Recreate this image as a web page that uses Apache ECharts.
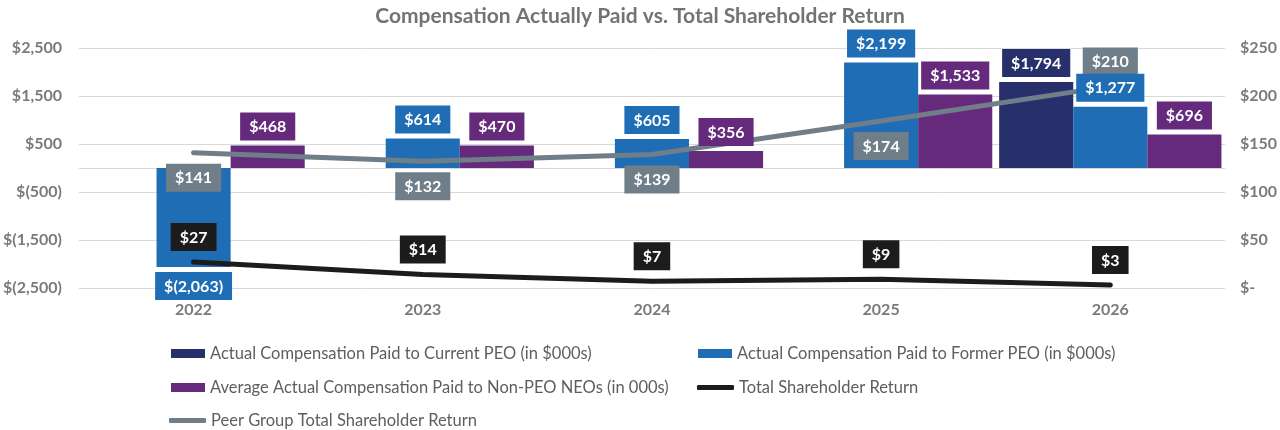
<!DOCTYPE html>
<html>
<head>
<meta charset="utf-8">
<script src="https://cdn.jsdelivr.net/npm/echarts@6/dist/echarts.min.js"></script>
<style>html,body{margin:0;padding:0;background:#fff}#c{width:1280px;height:430px}</style>
</head>
<body>
<div id="c"></div>
<script>
const categories = ['2022', '2023', '2024', '2025', '2026'];
const currentPEO = [null, null, null, null, 1794];
const formerPEO = [-2063, 614, 605, 2199, 1277];
const nonPEO = [468, 470, 356, 1533, 696];
const tsr = [27, 14, 7, 9, 3];
const peerTsr = [141, 132, 139, 174, 210];
const peerLabelPos = ['bottom', 'bottom', 'bottom', 'bottom', 'top'];

const names = {
  cur: 'Actual Compensation Paid to Current PEO (in $000s)',
  former: 'Actual Compensation Paid to Former PEO (in $000s)',
  non: 'Average Actual Compensation Paid to Non-PEO NEOs (in 000s)',
  tsr: 'Total Shareholder Return',
  peer: 'Peer Group Total Shareholder Return'
};
const colors = { cur: '#27306b', former: '#1f6db5', non: '#652a7c', tsr: '#1c1c1c', peer: '#6f7e88' };
const FONT = 'Lato';
const GRAY = '#7a7a7a';

function money(v) {
  const a = Math.abs(v).toLocaleString('en-US');
  return v < 0 ? '$(' + a + ')' : '$' + a;
}
function rightTick(v) { return v === 0 ? '$-' : '$' + v; }

function boxLabel(bg, pos, dist) {
  return {
    show: true, position: pos, distance: dist,
    backgroundColor: bg, color: '#fff', fontFamily: FONT, fontWeight: 'bold',
    fontSize: 16, lineHeight: 19, padding: [5, 9, 4, 9],
    formatter: p => money(p.value)
  };
}

const barBase = { type: 'bar', barGap: '0%', barCategoryGap: '3%', xAxisIndex: 0, yAxisIndex: 0, z: 1 };
const bars = [
  Object.assign({}, barBase, { name: names.cur, data: currentPEO, itemStyle: { color: colors.cur } }),
  Object.assign({}, barBase, { name: names.former, data: formerPEO, itemStyle: { color: colors.former } }),
  Object.assign({}, barBase, { name: names.non, data: nonPEO, itemStyle: { color: colors.non } })
];
// label-only duplicates drawn above the lines
const lblBase = { type: 'bar', barGap: '0%', barCategoryGap: '3%', xAxisIndex: 1, yAxisIndex: 0, z: 5, silent: true };
const barLabels = [
  Object.assign({}, lblBase, { name: 'lbl-cur', data: currentPEO, itemStyle: { color: 'rgba(0,0,0,0)' }, label: boxLabel(colors.cur, 'top', 5) }),
  Object.assign({}, lblBase, { name: 'lbl-former', data: formerPEO.map(v => v < 0 ? { value: v, label: { position: 'bottom' } } : v), itemStyle: { color: 'rgba(0,0,0,0)' }, label: boxLabel(colors.former, 'top', 5) }),
  Object.assign({}, lblBase, { name: 'lbl-non', data: nonPEO, itemStyle: { color: 'rgba(0,0,0,0)' }, label: boxLabel(colors.non, 'top', 5) })
];

const lines = [
  {
    type: 'line', name: names.tsr, data: tsr, xAxisIndex: 0, yAxisIndex: 1, z: 3,
    symbol: 'circle', symbolSize: 4, itemStyle: { color: colors.tsr },
    lineStyle: { color: colors.tsr, width: 5, cap: 'round', join: 'round' },
    label: Object.assign(boxLabel(colors.tsr, 'top', 9), { formatter: p => '$' + p.value })
  },
  {
    type: 'line', name: names.peer, xAxisIndex: 0, yAxisIndex: 1, z: 3,
    data: peerTsr.map((v, i) => ({ value: v, label: { position: peerLabelPos[i] } })),
    symbol: 'circle', symbolSize: 4, itemStyle: { color: colors.peer },
    lineStyle: { color: colors.peer, width: 5, cap: 'round', join: 'round' },
    label: Object.assign(boxLabel(colors.peer, 'bottom', 9), { formatter: p => '$' + p.value })
  }
];

function legendAt(name, left, top, isLine) {
  return {
    data: [name], left: left, top: top, orient: 'horizontal',
    itemWidth: isLine ? 37 : 34, itemHeight: isLine ? 5 : 9, itemGap: 0,
    icon: isLine ? 'roundRect' : 'rect',
    textStyle: { fontFamily: FONT, fontSize: 16.5, color: '#5e5e5e' },
    selectedMode: false
  };
}

const chart = echarts.init(document.getElementById('c'), null, { renderer: 'canvas' });
chart.setOption({
  animation: false,
  backgroundColor: '#fff',
  title: {
    text: 'Compensation Actually Paid vs. Total Shareholder Return',
    left: 'center', top: 1,
    textStyle: { fontFamily: FONT, fontSize: 21, fontWeight: 'bold', color: '#737373' }
  },
  legend: [
    legendAt(names.cur, 166, 340, false),
    legendAt(names.former, 693, 340, false),
    legendAt(names.non, 166, 374, false),
    legendAt(names.tsr, 692, 374, true),
    legendAt(names.peer, 164, 407, true)
  ],
  grid: { left: 79, right: 54, top: 48, bottom: 142, containLabel: false },
  xAxis: [
    {
      type: 'category', data: categories, position: 'bottom',
      axisLine: { show: false }, axisTick: { show: false },
      axisLabel: { fontFamily: FONT, fontSize: 16, fontWeight: 'bold', color: GRAY, margin: 14 }
    },
    {
      type: 'category', data: categories, position: 'bottom',
      axisLine: { show: true, onZero: true, onZeroAxisIndex: 0, lineStyle: { color: '#d9d9d9', width: 1 } },
      axisTick: { show: false }, axisLabel: { show: false }, splitLine: { show: false }
    }
  ],
  yAxis: [
    {
      type: 'value', min: -2500, max: 2500, interval: 1000, position: 'left',
      axisLine: { show: false }, axisTick: { show: false },
      splitLine: { lineStyle: { color: '#d9d9d9', width: 1 } },
      axisLabel: { fontFamily: FONT, fontSize: 16, fontWeight: 'bold', color: GRAY, margin: 17, formatter: money }
    },
    {
      type: 'value', min: 0, max: 250, interval: 50, position: 'right',
      axisLine: { show: false }, axisTick: { show: false }, splitLine: { show: false },
      axisLabel: { fontFamily: FONT, fontSize: 16, fontWeight: 'bold', color: GRAY, margin: 15, formatter: rightTick }
    }
  ],
  series: bars.concat(lines, barLabels)
});
</script>
</body>
</html>
